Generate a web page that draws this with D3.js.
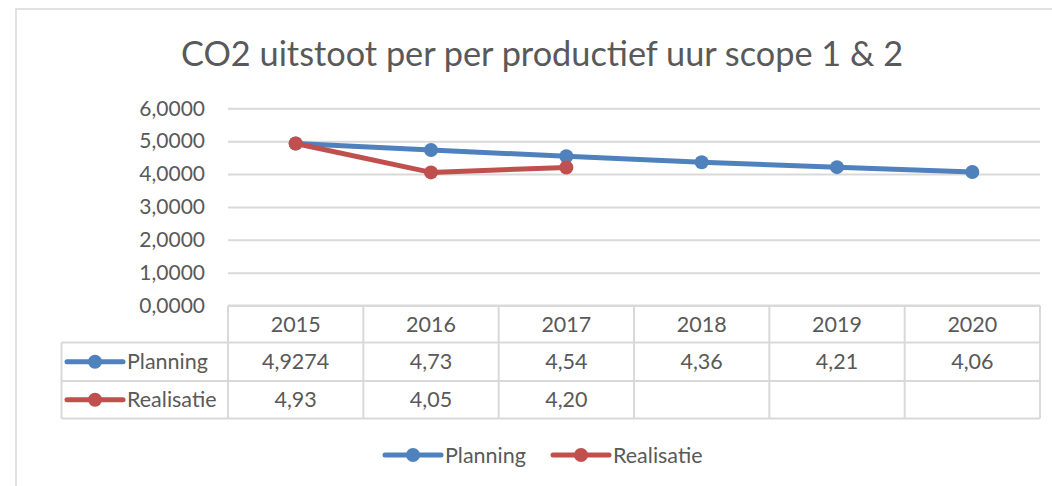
<!DOCTYPE html>
<html>
    <head>
        <meta charset="utf-8">
        <script src="https://cdn.jsdelivr.net/npm/d3@7"></script>
        <style>
            body { margin: 0; background: white; }
            text { font-family: Lato, "Open Sans", sans-serif; fill: #595959; }
        </style>
    </head>
    <body>
        <svg id="fig" width="1052" height="486"></svg>
        <script>
            // data
            const years = ["2015", "2016", "2017", "2018", "2019", "2020"];
            const planning = [4.9274, 4.73, 4.54, 4.36, 4.21, 4.06];
            const realisatie = [4.93, 4.05, 4.20];
            const planningText = ["4,9274", "4,73", "4,54", "4,36", "4,21", "4,06"];
            const realisatieText = ["4,93", "4,05", "4,20", "", "", ""];
            const yTicks = [0, 1, 2, 3, 4, 5, 6];
            const seriesNames = ["Planning", "Realisatie"];
            const colors = ["#4f81bd", "#c0504d"];

            const svg = d3.select("#fig");
            const margin = { left: 228, right: 1040, top: 108.3, bottom: 305.5 };
            const gridCol = "#d9d9d9";

            // chart frame
            svg.append("path")
               .attr("d", "M16,486 L16,9 L1052,9")
               .attr("fill", "none")
               .attr("stroke", gridCol)
               .attr("stroke-width", 1.5);

            svg.append("text")
               .attr("x", 542).attr("y", 66)
               .attr("text-anchor", "middle")
               .style("font-size", "34.3px")
               .text("CO2 uitstoot per per productief uur scope 1 & 2");

            const xSc = d3.scaleBand().domain(years).range([margin.left, margin.right]);
            const ySc = d3.scaleLinear().domain([0, 6]).range([margin.bottom, margin.top]);

            // y axis with gridlines
            const yg = svg.append("g").attr("transform", `translate(${margin.left},0)`);
            yg.call(d3.axisLeft(ySc)
                      .tickValues(yTicks)
                      .tickSize(-(margin.right - margin.left))
                      .tickPadding(23)
                      .tickFormat(d => d3.format(".4f")(d).replace(".", ",")));
            yg.select(".domain").remove();
            yg.selectAll(".tick line").attr("stroke", gridCol).attr("stroke-width", 2);
            yg.selectAll(".tick text").style("font-size", "21px").attr("fill", "#595959");

            // data table
            const rowY = [305.5, 342.5, 381, 418.5];
            const tableLeft = 61.5;
            const tbl = svg.append("g").attr("stroke", gridCol).attr("stroke-width", 2);
            tbl.selectAll("line.h")
               .data(rowY)
               .join("line")
               .attr("x1", (d, i) => i === 0 ? margin.left : tableLeft)
               .attr("x2", margin.right)
               .attr("y1", d => d).attr("y2", d => d);
            const colX = years.map(d => xSc(d)).concat([margin.right]);
            tbl.selectAll("line.v")
               .data(colX)
               .join("line")
               .attr("x1", d => d).attr("x2", d => d)
               .attr("y1", rowY[0]).attr("y2", rowY[3]);
            tbl.append("line")
               .attr("x1", tableLeft).attr("x2", tableLeft)
               .attr("y1", rowY[1]).attr("y2", rowY[3]);

            const cellFont = "21.5px";
            svg.selectAll("text.year")
               .data(years)
               .join("text")
               .attr("x", d => xSc(d) + xSc.bandwidth() / 2)
               .attr("y", (rowY[0] + rowY[1]) / 2)
               .attr("dy", "0.35em")
               .attr("text-anchor", "middle")
               .style("font-size", cellFont)
               .text(d => d);

            [planningText, realisatieText].forEach((row, r) => {
                svg.selectAll("text.cell" + r)
                   .data(row)
                   .join("text")
                   .attr("x", (d, i) => xSc(years[i]) + xSc.bandwidth() / 2)
                   .attr("y", (rowY[r + 1] + rowY[r + 2]) / 2)
                   .attr("dy", "0.35em")
                   .attr("text-anchor", "middle")
                   .style("font-size", cellFont)
                   .text(d => d);
            });

            // legend key helper
            function key(g, x, y, color, name) {
                g.append("line")
                 .attr("x1", x).attr("x2", x + 56)
                 .attr("y1", y).attr("y2", y)
                 .attr("stroke", color).attr("stroke-width", 5)
                 .attr("stroke-linecap", "round");
                g.append("circle")
                 .attr("cx", x + 28).attr("cy", y).attr("r", 7)
                 .attr("fill", color);
                g.append("text")
                 .attr("x", x + 60).attr("y", y)
                 .attr("dy", "0.35em")
                 .style("font-size", cellFont)
                 .text(name);
            }

            seriesNames.forEach((n, i) => {
                key(svg.append("g"), 67, (rowY[i + 1] + rowY[i + 2]) / 2, colors[i], n);
            });

            // lines and markers
            const lnMkr = d3.line()
                            .x((d, i) => xSc(years[i]) + xSc.bandwidth() / 2)
                            .y(d => ySc(d));

            [planning, realisatie].forEach((vals, s) => {
                svg.append("path")
                   .attr("d", lnMkr(vals))
                   .attr("fill", "none")
                   .attr("stroke", colors[s])
                   .attr("stroke-width", 5)
                   .attr("stroke-linejoin", "round");
                svg.selectAll("circle.s" + s)
                   .data(vals)
                   .join("circle")
                   .attr("cx", (d, i) => xSc(years[i]) + xSc.bandwidth() / 2)
                   .attr("cy", d => ySc(d))
                   .attr("r", 7)
                   .attr("fill", colors[s]);
            });

            // bottom legend
            key(svg.append("g"), 385, 455, colors[0], seriesNames[0]);
            key(svg.append("g"), 553, 455, colors[1], seriesNames[1]);
        </script>
    </body>
</html>
